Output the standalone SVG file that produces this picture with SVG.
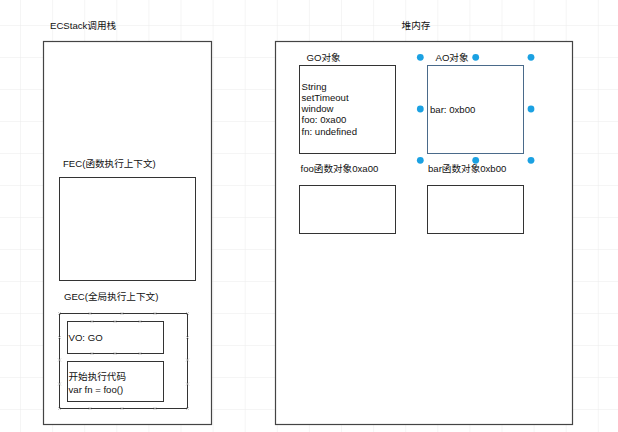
<svg xmlns="http://www.w3.org/2000/svg" width="618" height="432" viewBox="0 0 618 432">
<defs>
<pattern id="grid" x="20" y="25" width="32.1" height="32" patternUnits="userSpaceOnUse">
<path d="M0 0 V32 M0 0 H32.1" fill="none" stroke="#ececec" stroke-width="1"/>
</pattern>
<g id="xm"><path d="M-1.5 -1.5 L1.5 1.5 M-1.5 1.5 L1.5 -1.5" stroke="#b8b8b8" stroke-width="0.7" fill="none"/></g>
</defs>
<style>
text{font-family:"Liberation Sans","Noto Sans CJK SC",Arial,sans-serif;font-size:9.6px;fill:#111}
.box{fill:#fff;stroke:#333;stroke-width:1}
.outer{fill:#fff;stroke:#444;stroke-width:1.2}
.sel{fill:#fff;stroke:#4a6a8a;stroke-width:1}
.h{fill:#1ba1e2}
</style>
<rect width="618" height="432" fill="#fff"/>
<rect width="618" height="432" fill="url(#grid)"/>

<g id="ecstack">
<text x="50" y="28.5">ECStack调用栈</text>
<rect class="outer" x="43.5" y="41.5" width="168" height="383"/>
</g>
<g id="fec">
<text x="63" y="167">FEC(函数执行上下文)</text>
<rect class="box" x="59.5" y="177.5" width="136" height="103"/>
</g>
<g id="gec">
<text x="64" y="300">GEC(全局执行上下文)</text>
<rect class="box" x="59.5" y="313.5" width="128" height="95"/>
<use href="#xm" x="59.5" y="313.5"/><use href="#xm" x="90" y="313.5"/><use href="#xm" x="122" y="313.5"/><use href="#xm" x="155" y="313.5"/><use href="#xm" x="187.5" y="313.5"/>
<use href="#xm" x="59.5" y="408.5"/><use href="#xm" x="90" y="408.5"/><use href="#xm" x="122" y="408.5"/><use href="#xm" x="155" y="408.5"/><use href="#xm" x="187.5" y="408.5"/>
<use href="#xm" x="59.5" y="337.5"/><use href="#xm" x="59.5" y="360"/><use href="#xm" x="59.5" y="384"/>
<use href="#xm" x="187.5" y="337.5"/><use href="#xm" x="187.5" y="360"/><use href="#xm" x="187.5" y="384"/>
</g>
<g id="vo">
<rect class="box" x="67.5" y="321.5" width="96" height="32"/>
<use href="#xm" x="92" y="321.5"/><use href="#xm" x="115" y="321.5"/><use href="#xm" x="140" y="321.5"/>
<use href="#xm" x="92" y="353.5"/><use href="#xm" x="115" y="353.5"/><use href="#xm" x="140" y="353.5"/>
<text x="68.5" y="340.5">VO: GO</text>
</g>
<g id="code">
<rect class="box" x="67.5" y="361.5" width="96" height="40"/>
<text x="68.5" y="379.5">开始执行代码</text>
<text x="68.5" y="392.5">var fn = foo()</text>
</g>

<g id="heap">
<text x="416" y="28.5" text-anchor="middle">堆内存</text>
<rect class="outer" x="275.5" y="41.5" width="297" height="383"/>
</g>
<g id="go">
<text x="306.5" y="60.5">GO对象</text>
<rect class="box" x="299.5" y="65.5" width="96" height="88"/>
<text x="301.5" y="89.5">String</text>
<text x="301.5" y="100.8">setTimeout</text>
<text x="301.5" y="112">window</text>
<text x="301.5" y="123.2">foo: 0xa00</text>
<text x="301.5" y="134.5">fn: undefined</text>
</g>
<g id="ao">
<text x="435.5" y="60.5">AO对象</text>
<rect class="sel" x="427.5" y="65.5" width="96" height="88"/>
<text x="430" y="112.5">bar: 0xb00</text>
<circle class="h" cx="420.3" cy="57.3" r="3.4"/><circle class="h" cx="475.7" cy="57.3" r="3.4"/><circle class="h" cx="531" cy="57.3" r="3.4"/>
<circle class="h" cx="420.3" cy="109" r="3.4"/><circle class="h" cx="531" cy="109" r="3.4"/>
<circle class="h" cx="420.3" cy="160.3" r="3.4"/><circle class="h" cx="475.7" cy="160.3" r="3.4"/><circle class="h" cx="531" cy="160.3" r="3.4"/>
</g>
<g id="foo">
<text x="300.5" y="172">foo函数对象0xa00</text>
<rect class="box" x="299.5" y="185.5" width="96" height="48"/>
</g>
<g id="bar">
<text x="428" y="172">bar函数对象0xb00</text>
<rect class="box" x="427.5" y="185.5" width="96" height="48"/>
</g>
<g id="connectors"></g>
</svg>
